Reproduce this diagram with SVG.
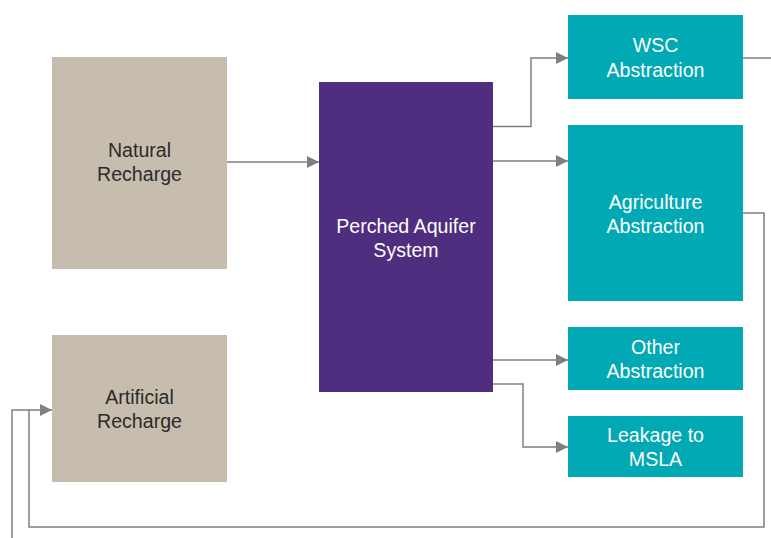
<svg xmlns="http://www.w3.org/2000/svg" width="771" height="538" viewBox="0 0 771 538">
<style>
.tan{fill:#C6BDAF}
.pur{fill:#4F2D7F}
.teal{fill:#00A9B4}
text{font-family:"Liberation Sans",Arial,sans-serif;font-size:19.6px;text-anchor:middle}
.dk{fill:#2B2B2B}
.wt{fill:#FFFFFF}
.ln{fill:none;stroke:#7F7F7F;stroke-width:1.5}
</style>
<defs>
<marker id="ah" markerWidth="12" markerHeight="12" refX="12" refY="6" orient="auto" markerUnits="userSpaceOnUse">
<path d="M0,0 L12,6 L0,12 Z" fill="#7F7F7F"/>
</marker>
</defs>
<rect width="771" height="538" fill="#FFFFFF"/>
<g id="connectors">
<path class="ln" d="M227,162 H319" marker-end="url(#ah)"/>
<path class="ln" d="M493,126.5 H531 V58 H568" marker-end="url(#ah)"/>
<path class="ln" d="M493,161 H568" marker-end="url(#ah)"/>
<path class="ln" d="M493,360 H568" marker-end="url(#ah)"/>
<path class="ln" d="M493,384 H523 V447 H568" marker-end="url(#ah)"/>
<path class="ln" d="M743,58 H771"/>
<path class="ln" d="M743,213 H764 V527 H29 V410"/>
<path class="ln" d="M12,538 V410 H52" marker-end="url(#ah)"/>
</g>
<g id="natural-recharge">
<rect class="tan" x="52" y="57" width="175" height="212"/>
<text class="dk" x="139.5" y="156.5">Natural</text>
<text class="dk" x="139.5" y="180.5">Recharge</text>
</g>
<g id="artificial-recharge">
<rect class="tan" x="52" y="335" width="175" height="147"/>
<text class="dk" x="139.5" y="403.5">Artificial</text>
<text class="dk" x="139.5" y="427.5">Recharge</text>
</g>
<g id="perched-aquifer">
<rect class="pur" x="319" y="82" width="174" height="310"/>
<text class="wt" x="406" y="232.5">Perched Aquifer</text>
<text class="wt" x="406" y="256.5">System</text>
</g>
<g id="wsc-abstraction">
<rect class="teal" x="568" y="15" width="175" height="84"/>
<text class="wt" x="655.5" y="51.5">WSC</text>
<text class="wt" x="655.5" y="76.5">Abstraction</text>
</g>
<g id="agriculture-abstraction">
<rect class="teal" x="568" y="125" width="175" height="176"/>
<text class="wt" x="655.5" y="208.5">Agriculture</text>
<text class="wt" x="655.5" y="232.5">Abstraction</text>
</g>
<g id="other-abstraction">
<rect class="teal" x="568" y="327" width="175" height="63"/>
<text class="wt" x="655.5" y="353.5">Other</text>
<text class="wt" x="655.5" y="377.5">Abstraction</text>
</g>
<g id="leakage-msla">
<rect class="teal" x="568" y="416" width="175" height="61"/>
<text class="wt" x="655.5" y="441.5">Leakage to</text>
<text class="wt" x="655.5" y="465.5">MSLA</text>
</g>
</svg>
